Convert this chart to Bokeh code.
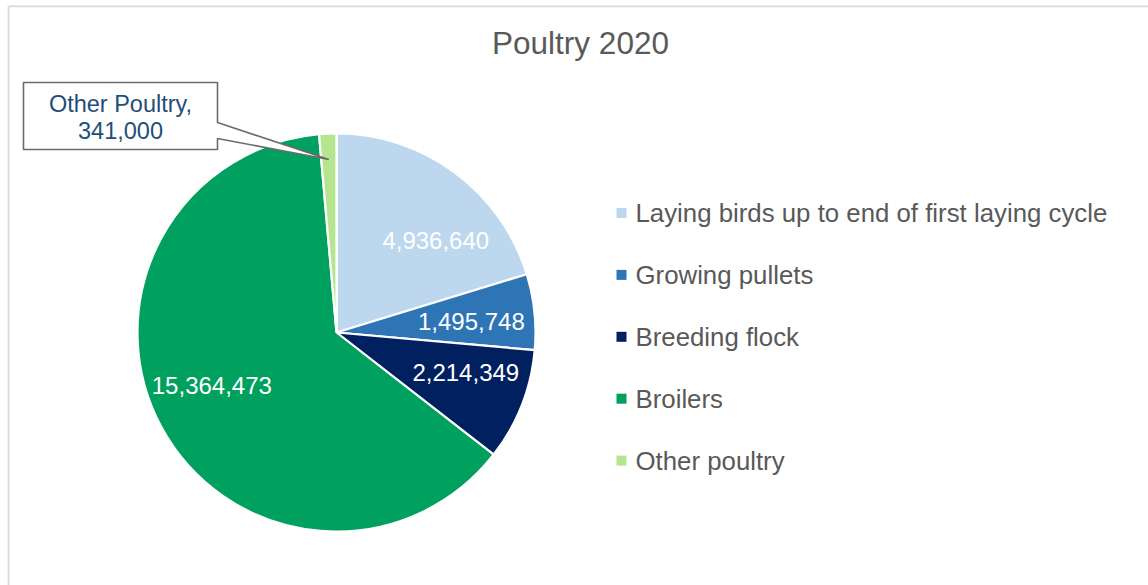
import math
from bokeh.plotting import figure
from bokeh.models import Range1d, ColumnDataSource
from bokeh.core.properties import value
from bokeh.embed import file_html
from bokeh.resources import INLINE

# ---- data ----
categories = ["Laying birds up to end of first laying cycle", "Growing pullets",
              "Breeding flock", "Broilers", "Other poultry"]
counts = [4936640, 1495748, 2214349, 15364473, 341000]
colors = ["#BDD7EE", "#2E75B6", "#002060", "#00A05E", "#B5E58E"]
title_text = "Poultry 2020"
callout_name = "Other Poultry"

W, H = 1148, 585
FONT = value("Liberation Sans")


def X(px):  # page x -> data x
    return px


def Y(py):  # page y -> data y
    return H - py


p = figure(width=W, height=H, output_backend="svg", toolbar_location=None,
           x_range=Range1d(0, W), y_range=Range1d(0, H), min_border=0,
           x_axis_type=None, y_axis_type=None, title=None)
p.grid.visible = False
p.outline_line_color = None
p.background_fill_color = "white"
p.border_fill_color = "white"

# chart border (top & left visible)
p.segment(x0=[X(8), X(8)], y0=[Y(5.8), Y(5.8)], x1=[W, X(8)], y1=[Y(5.8), 0],
          line_color="#D9D9D9", line_width=1.8)

# ---- pie ----
cx, cy, R = X(336), Y(332), 199
total = sum(counts)
starts, ends, mids = [], [], []
acc = 0
for c in counts:
    a0 = math.pi / 2 - 2 * math.pi * acc / total
    acc += c
    a1 = math.pi / 2 - 2 * math.pi * acc / total
    starts.append(a0)
    ends.append(a1)
    mids.append((a0 + a1) / 2)

src = ColumnDataSource(dict(start=starts, end=ends, color=colors, cat=categories))
p.wedge(x=cx, y=cy, radius=R, start_angle="start", end_angle="end",
        direction="clock", fill_color="color", line_color="white",
        line_width=2.2, source=src)


def label_angle(m, k=0.8):
    """Mid-angle pulled toward the horizontal (wide labels fit better)."""
    a = math.atan2(math.sin(m), math.cos(m))
    if abs(a) <= math.pi / 2:
        return k * a
    return math.copysign(math.pi - k * (math.pi - abs(a)), a)


# data labels inside (all but the tiny last slice)
lab_r = 0.68 * R
lx = [cx + lab_r * math.cos(label_angle(m)) for m in mids[:-1]]
ly = [cy + lab_r * math.sin(label_angle(m)) for m in mids[:-1]]
lt = [f"{c:,}" for c in counts[:-1]]
p.text(x=lx, y=ly, text=lt, text_color="white", text_font=FONT,
       text_font_size="24px", text_align="center", text_baseline="middle")

# ---- callout for the small slice ----
tip_r = 0.87 * R
tx = cx + tip_r * math.cos(mids[-1])
ty = cy + tip_r * math.sin(mids[-1])
bx0, bx1, by0, by1 = X(23), X(217), Y(82), Y(149)
p.patch(x=[bx0, bx1, bx1, tx, bx1, bx1, bx0],
        y=[by0, by0, Y(122), ty, Y(138), by1, by1],
        fill_color="white", line_color="#6B6B6B", line_width=1.6)
cx_txt = (bx0 + bx1) / 2
p.text(x=[cx_txt, cx_txt], y=[Y(103), Y(130)],
       text=[callout_name + ",", f"{counts[-1]:,}"], text_color="#1F4E79",
       text_font=FONT, text_font_size="23.5px", text_align="center",
       text_baseline="middle")

# ---- title ----
p.text(x=[X(580)], y=[Y(42)], text=[title_text], text_color="#595959",
       text_font=FONT, text_font_size="31.5px", text_align="center",
       text_baseline="middle")

# ---- legend (drawn manually) ----
leg_y = [Y(212.5 + 61.9 * i) for i in range(len(categories))]
p.scatter(x=[X(621)] * len(categories), y=leg_y, marker="square", size=10,
          fill_color=colors, line_color=None)
p.text(x=[X(635)] * len(categories), y=leg_y, text=categories,
       text_color="#595959", text_font=FONT, text_font_size="25.8px",
       text_align="left", text_baseline="middle")

open("out.html", "w").write(file_html(p, INLINE))
